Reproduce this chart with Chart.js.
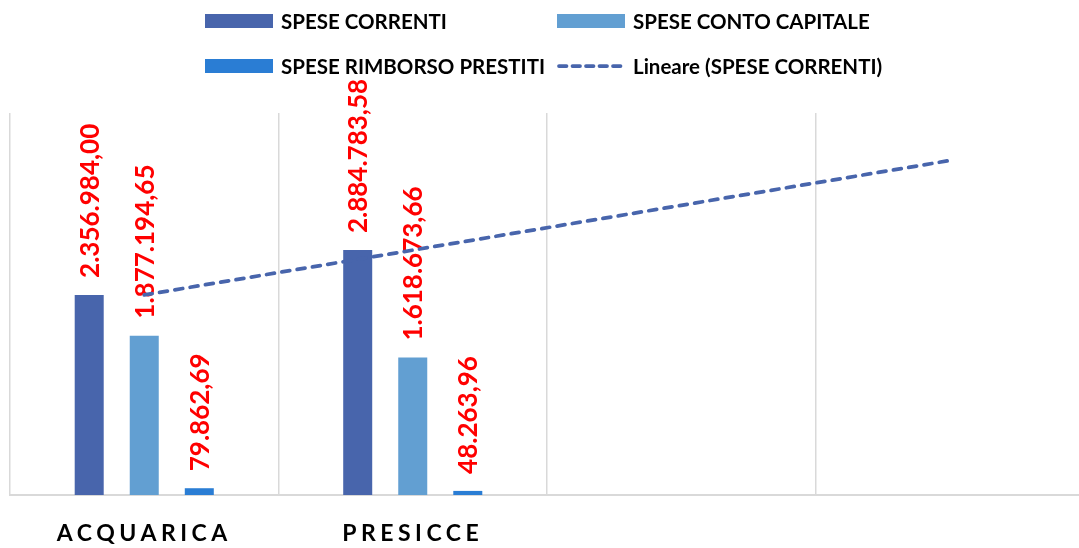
<!DOCTYPE html>
<html>
<head>
<meta charset="utf-8">
<script src="https://cdn.jsdelivr.net/npm/chart.js@4.4.1/dist/chart.umd.min.js"></script>
<style>
  html, body { margin: 0; padding: 0; background: #fff; overflow: hidden; }
  #wrap { position: relative; width: 1090px; height: 548px; }
  #legend { position: absolute; left: 0; top: 0; width: 1079px; height: 100px; font-family: Lato, "Open Sans", sans-serif; font-weight: bold; color: #000; }
  .li { position: absolute; display: flex; align-items: center; white-space: nowrap; }
  .sw { width: 68px; height: 14px; margin-right: 8px; flex: none; }
  .lt { font-size: 20.5px; line-height: 24px; }
</style>
</head>
<body>
<div id="wrap">
  <canvas id="c"></canvas>
  <div id="legend"></div>
</div>
<script>
// ---- data ----
const categories = ['ACQUARICA', 'PRESICCE', '', ''];
const speseCorrenti = [2356984.00, 2884783.58, null, null];
const speseContoCapitale = [1877194.65, 1618673.66, null, null];
const speseRimborsoPrestiti = [79862.69, 48263.96, null, null];
const trendSpeseCorrenti = [2356984.00, 2884783.58, 3412583.16, 3940382.74];
const seriesNames = ['SPESE CORRENTI', 'SPESE CONTO CAPITALE', 'SPESE RIMBORSO PRESTITI', 'Lineare (SPESE CORRENTI)'];
const yMax = 4500000;

const colors = ['#4865AC', '#629FD2', '#2A7DD4', '#4865AC'];

function fmtIt(v) {
  const parts = v.toFixed(2).split('.');
  return parts[0].replace(/\B(?=(\d{3})+(?!\d))/g, '.') + ',' + parts[1];
}

const labelPlugin = {
  id: 'barLabels',
  afterDatasetDraw(chart, args) {
    const meta = args.meta;
    if (meta.type !== 'bar') return;
    const ctx = chart.ctx;
    const ds = chart.data.datasets[args.index];
    ctx.save();
    ctx.letterSpacing = '0px';
    ctx.fillStyle = '#FF0000';
    ctx.font = 'bold 26px Lato, "Open Sans", sans-serif';
    ctx.textAlign = 'left';
    ctx.textBaseline = 'middle';
    meta.data.forEach((el, i) => {
      const v = ds.data[i];
      if (v === null || v === undefined) return;
      ctx.save();
      ctx.translate(el.x + 1, el.y - 17);
      ctx.rotate(-Math.PI / 2);
      ctx.fillText(fmtIt(v), 0, 0);
      ctx.restore();
    });
    ctx.restore();
  }
};

const spacingPlugin = {
  id: 'tickSpacing',
  beforeDraw(chart) { chart.ctx.letterSpacing = '4.5px'; },
  beforeDatasetsDraw(chart) { chart.ctx.letterSpacing = '0px'; }
};

const chart = new Chart(document.getElementById('c'), {
  type: 'bar',
  data: {
    labels: categories,
    datasets: [
      { label: seriesNames[0], data: speseCorrenti, backgroundColor: colors[0], order: 1 },
      { label: seriesNames[1], data: speseContoCapitale, backgroundColor: colors[1], order: 2 },
      { label: seriesNames[2], data: speseRimborsoPrestiti, backgroundColor: colors[2], order: 3 },
      { type: 'line', label: seriesNames[3], data: trendSpeseCorrenti, borderColor: colors[3], borderWidth: 3.75,
        borderDash: [8, 7.5], borderCapStyle: 'round', pointRadius: 0, fill: false, order: -1 }
    ]
  },
  options: {
    responsive: true,
    maintainAspectRatio: false,
    animation: false,
    datasets: { bar: { barPercentage: 0.527, categoryPercentage: 0.615 } },
    layout: { padding: { top: 113, left: 10, right: 6, bottom: 0 } },
    plugins: { legend: { display: false }, tooltip: { enabled: false } },
    scales: {
      x: {
        grid: { color: '#D9D9D9', lineWidth: 1.5, drawTicks: false, offset: true },
        border: { color: '#D9D9D9', width: 2 },
        ticks: { color: '#000', padding: 25, maxRotation: 0, font: { family: 'Lato', weight: 'bold', size: 23 } },
        afterFit(scale) { scale.height = 53; }
      },
      y: { display: false, min: 0, max: yMax }
    }
  },
  plugins: [labelPlugin, spacingPlugin]
});

// ---- HTML legend built from the chart datasets ----
const legendPos = [
  { left: 205, top: 21 }, { left: 557, top: 21 },
  { left: 205, top: 66 }, { left: 557, top: 66 }
];
const legend = document.getElementById('legend');
chart.data.datasets.forEach((ds, i) => {
  const item = document.createElement('div');
  item.className = 'li';
  item.style.left = legendPos[i].left + 'px';
  item.style.top = (legendPos[i].top - 12) + 'px';
  let sw;
  if (ds.type === 'line') {
    sw = document.createElementNS('http://www.w3.org/2000/svg', 'svg');
    sw.setAttribute('width', '68'); sw.setAttribute('height', '14');
    sw.style.marginRight = '8px';
    const ln = document.createElementNS('http://www.w3.org/2000/svg', 'line');
    ln.setAttribute('x1', '2'); ln.setAttribute('y1', '7'); ln.setAttribute('x2', '66'); ln.setAttribute('y2', '7');
    ln.setAttribute('stroke', ds.borderColor); ln.setAttribute('stroke-width', '3.75');
    ln.setAttribute('stroke-dasharray', '7.5 6'); ln.setAttribute('stroke-linecap', 'round');
    sw.appendChild(ln);
  } else {
    sw = document.createElement('div');
    sw.className = 'sw';
    sw.style.background = ds.backgroundColor;
  }
  const t = document.createElement('span');
  t.className = 'lt';
  t.textContent = ds.label;
  item.appendChild(sw); item.appendChild(t);
  legend.appendChild(item);
});
</script>
</body>
</html>
